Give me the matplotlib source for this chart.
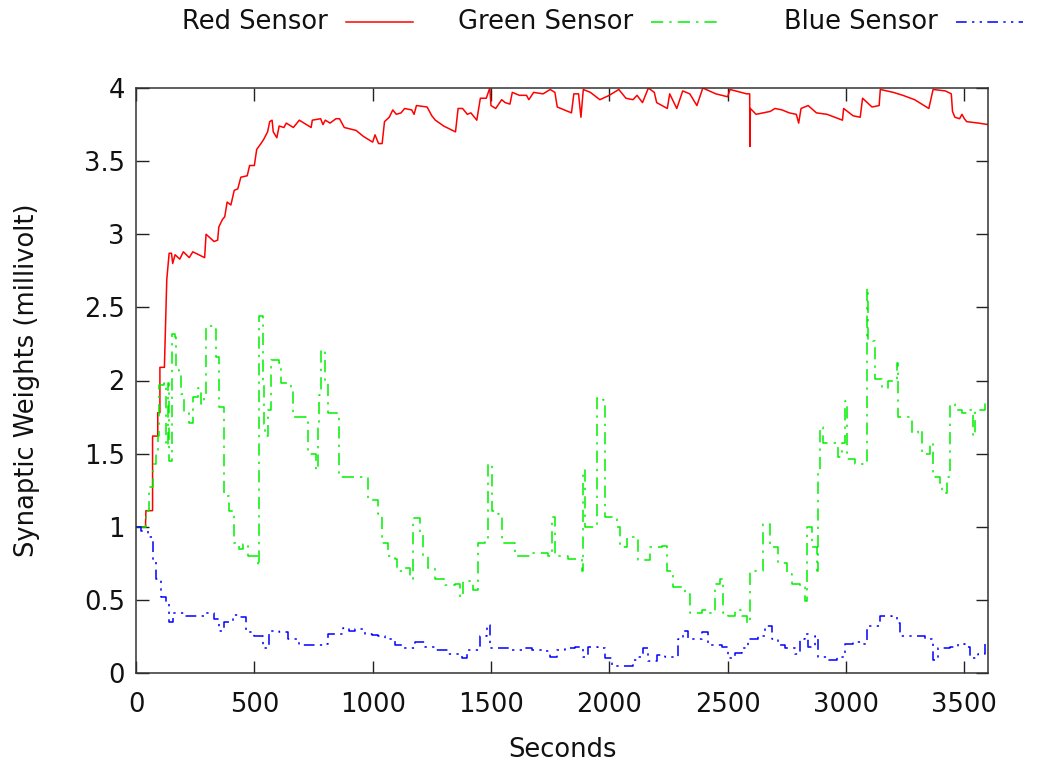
#!/usr/bin/env python
import matplotlib

matplotlib.use("Agg")
import matplotlib.pyplot as plt
from matplotlib.lines import Line2D

# (seconds, millivolt) samples
red_sensor = [
    (0, 1.00), (40, 1.00), (42, 1.11), (70, 1.11), (70, 1.62), (92, 1.62), (92, 1.78),
    (101, 1.78), (101, 2.09), (120, 2.09), (130, 2.69), (140, 2.87), (150, 2.87),
    (155, 2.80), (165, 2.86), (185, 2.83), (200, 2.88), (225, 2.84), (240, 2.88),
    (290, 2.84), (296, 3.00), (330, 2.95), (345, 2.96), (350, 3.05), (365, 3.10),
    (375, 3.12), (385, 3.22), (401, 3.20), (415, 3.30), (430, 3.31), (443, 3.39),
    (470, 3.40), (480, 3.47), (500, 3.47), (510, 3.58), (528, 3.62), (540, 3.65),
    (556, 3.70), (565, 3.77), (575, 3.78), (580, 3.70), (595, 3.66), (605, 3.74),
    (625, 3.73), (635, 3.76), (665, 3.73), (690, 3.78), (740, 3.73), (745, 3.78),
    (780, 3.79), (790, 3.75), (800, 3.78), (820, 3.76), (845, 3.79), (860, 3.79),
    (880, 3.73), (930, 3.71), (960, 3.67), (1000, 3.63), (1010, 3.68), (1025, 3.62),
    (1040, 3.62), (1050, 3.77), (1070, 3.80), (1085, 3.85), (1100, 3.82), (1120, 3.83),
    (1135, 3.86), (1165, 3.85), (1175, 3.82), (1185, 3.88), (1230, 3.87), (1250, 3.81),
    (1265, 3.78), (1300, 3.74), (1350, 3.70), (1361, 3.86), (1380, 3.86), (1400, 3.82),
    (1415, 3.83), (1440, 3.78), (1455, 3.93), (1480, 3.93), (1495, 4.00), (1500, 3.88),
    (1520, 3.86), (1545, 3.92), (1560, 3.90), (1580, 3.89), (1590, 3.97), (1620, 3.95),
    (1650, 3.95), (1660, 3.92), (1680, 3.97), (1720, 3.96), (1750, 3.99), (1770, 3.97),
    (1780, 3.87), (1840, 3.83), (1850, 3.96), (1870, 3.96), (1880, 3.80), (1890, 3.99),
    (1920, 3.97), (1960, 3.92), (2000, 3.95), (2040, 3.99), (2070, 3.93), (2100, 3.92),
    (2117, 3.95), (2140, 3.90), (2165, 4.00), (2190, 3.97), (2200, 3.90), (2245, 3.86),
    (2255, 3.96), (2285, 3.86), (2310, 3.98), (2340, 3.96), (2370, 3.88), (2395, 4.00),
    (2450, 3.96), (2500, 3.94), (2510, 3.99), (2580, 3.96), (2593, 3.96), (2594, 3.60),
    (2596, 3.86), (2620, 3.82), (2650, 3.83), (2680, 3.84), (2700, 3.86), (2730, 3.85),
    (2760, 3.83), (2790, 3.82), (2800, 3.76), (2810, 3.86), (2840, 3.88), (2875, 3.83),
    (2920, 3.82), (2985, 3.78), (2990, 3.86), (3030, 3.81), (3060, 3.80), (3070, 3.93),
    (3090, 3.90), (3110, 3.87), (3140, 3.88), (3145, 3.99), (3200, 3.97), (3240, 3.95),
    (3290, 3.92), (3350, 3.86), (3368, 3.99), (3420, 3.98), (3445, 3.96), (3450, 3.84),
    (3460, 3.80), (3480, 3.79), (3490, 3.82), (3500, 3.79), (3510, 3.77), (3560, 3.76),
    (3600, 3.75),
]

green_sensor = [
    (0, 1.00), (42, 1.11), (56, 1.27), (70, 1.43), (85, 1.50), (95, 1.62), (99, 1.97),
    (120, 1.98), (128, 1.55), (134, 1.98), (141, 1.45), (152, 2.32), (166, 2.30),
    (169, 2.07), (183, 2.05), (190, 1.91), (204, 1.78), (225, 1.71), (239, 1.89),
    (261, 1.95), (275, 1.84), (289, 1.90), (296, 2.37), (331, 2.35), (338, 2.16),
    (352, 1.82), (373, 1.21), (394, 1.11), (415, 0.89), (437, 0.85), (451, 0.88),
    (472, 0.80), (500, 0.80), (514, 0.73), (521, 2.44), (535, 2.00), (540, 1.70),
    (546, 1.62), (556, 1.80), (570, 2.14), (606, 2.12), (613, 1.98), (655, 1.94),
    (662, 1.75), (718, 1.73), (725, 1.50), (761, 1.39), (768, 1.70), (775, 1.90),
    (782, 2.21), (800, 1.98), (810, 1.78), (838, 1.78), (859, 1.34), (968, 1.34),
    (982, 1.18), (1024, 1.09), (1038, 0.89), (1066, 0.80), (1094, 0.78), (1101, 0.70),
    (1129, 0.72), (1158, 0.64), (1172, 1.06), (1200, 0.95), (1214, 0.80), (1235, 0.72),
    (1263, 0.64), (1306, 0.60), (1348, 0.61), (1369, 0.52), (1383, 0.63), (1425, 0.57),
    (1446, 0.89), (1475, 0.90), (1489, 1.43), (1503, 1.11), (1531, 1.09), (1545, 0.89),
    (1573, 0.89), (1601, 0.80), (1672, 0.82), (1742, 0.80), (1756, 1.07), (1770, 0.80),
    (1826, 0.78), (1883, 0.70), (1890, 1.39), (1897, 1.00), (1939, 1.00), (1946, 1.88),
    (1974, 1.87), (1981, 1.07), (2031, 1.00), (2045, 0.86), (2073, 0.93), (2108, 0.91),
    (2122, 0.77), (2171, 0.86), (2221, 0.87), (2242, 0.70), (2270, 0.59), (2319, 0.54),
    (2340, 0.41), (2390, 0.43), (2418, 0.41), (2446, 0.61), (2467, 0.64), (2481, 0.41),
    (2502, 0.39), (2531, 0.43), (2559, 0.39), (2580, 0.34), (2594, 0.70), (2629, 0.70),
    (2650, 1.02), (2678, 0.86), (2714, 0.75), (2750, 0.68), (2771, 0.61), (2806, 0.59),
    (2827, 0.49), (2834, 1.00), (2855, 0.86), (2876, 0.70), (2883, 1.39), (2890, 1.68),
    (2904, 1.57), (2954, 1.57), (2965, 1.48), (2982, 1.57), (2996, 1.86), (3003, 1.46),
    (3038, 1.43), (3080, 1.45), (3088, 2.63), (3095, 2.28), (3116, 2.27), (3123, 2.01),
    (3151, 1.95), (3179, 2.00), (3214, 2.12), (3221, 1.75), (3250, 1.75), (3278, 1.64),
    (3306, 1.66), (3320, 1.50), (3355, 1.57), (3369, 1.34), (3397, 1.30), (3404, 1.23),
    (3425, 1.34), (3440, 1.84), (3461, 1.80), (3489, 1.78), (3517, 1.80), (3538, 1.62),
    (3545, 1.80), (3587, 1.86), (3600, 1.86),
]

blue_sensor = [
    (0, 1.00), (20, 0.97), (49, 0.93), (70, 0.77), (85, 0.64), (106, 0.52), (127, 0.48),
    (141, 0.35), (155, 0.41), (183, 0.41), (211, 0.39), (254, 0.39), (289, 0.41),
    (310, 0.41), (331, 0.37), (352, 0.29), (373, 0.35), (408, 0.40), (437, 0.38),
    (465, 0.28), (500, 0.25), (535, 0.17), (563, 0.29), (606, 0.28), (641, 0.23),
    (690, 0.19), (746, 0.19), (789, 0.20), (810, 0.27), (845, 0.27), (873, 0.31),
    (901, 0.29), (925, 0.30), (968, 0.27), (996, 0.26), (1024, 0.25), (1052, 0.23),
    (1094, 0.19), (1129, 0.17), (1179, 0.21), (1221, 0.18), (1263, 0.16), (1320, 0.13),
    (1376, 0.10), (1397, 0.16), (1432, 0.16), (1453, 0.25), (1482, 0.33), (1496, 0.17),
    (1545, 0.17), (1587, 0.16), (1644, 0.17), (1672, 0.16), (1728, 0.15), (1749, 0.11),
    (1777, 0.16), (1812, 0.17), (1855, 0.18), (1890, 0.11), (1911, 0.18), (1953, 0.17),
    (1981, 0.10), (2010, 0.05), (2066, 0.05), (2101, 0.09), (2122, 0.11), (2143, 0.17),
    (2164, 0.08), (2200, 0.12), (2235, 0.11), (2291, 0.23), (2312, 0.29), (2333, 0.23),
    (2390, 0.28), (2418, 0.19), (2474, 0.18), (2502, 0.10), (2531, 0.14), (2559, 0.17),
    (2587, 0.23), (2629, 0.25), (2657, 0.32), (2686, 0.23), (2714, 0.19), (2742, 0.17),
    (2785, 0.13), (2806, 0.23), (2827, 0.27), (2841, 0.18), (2869, 0.25), (2883, 0.11),
    (2926, 0.09), (2961, 0.11), (2996, 0.20), (3031, 0.21), (3073, 0.20), (3088, 0.32),
    (3116, 0.32), (3144, 0.39), (3193, 0.38), (3214, 0.34), (3228, 0.25), (3278, 0.25),
    (3334, 0.23), (3362, 0.22), (3369, 0.09), (3390, 0.17), (3440, 0.18), (3475, 0.20),
    (3503, 0.18), (3524, 0.10), (3559, 0.13), (3587, 0.20), (3600, 0.20),
]

labels = ["Red Sensor", "Green Sensor", "Blue Sensor"]
x_ticks = [0, 500, 1000, 1500, 2000, 2500, 3000, 3500]
y_ticks = [0, 0.5, 1, 1.5, 2, 2.5, 3, 3.5, 4]
y_ticklabels = ["0", "0.5", "1", "1.5", "2", "2.5", "3", "3.5", "4"]

plt.rcParams["font.family"] = ["DejaVu Sans"]
plt.rcParams["font.size"] = 18.5

W, H = 1037, 766
fig = plt.figure(figsize=(W / 100, H / 100), dpi=100)
ax = fig.add_axes([136 / W, 93 / H, 852 / W, 585 / H])

styles = [
    dict(color="#ff0000", ls="-", drawstyle="default"),
    dict(color="#00f000", dashes=(8, 4, 1.5, 4), drawstyle="steps-post"),
    dict(color="#0000ff", dashes=(7, 3.5, 1.5, 3.5, 1.5, 3.5), drawstyle="steps-post"),
]

for data, style in zip([red_sensor, green_sensor, blue_sensor], styles):
    t, v = zip(*data)
    ax.plot(t, v, lw=1.1, **style)

ax.set_xlim(0, 3600)
ax.set_ylim(0, 4)
ax.set_xticks(x_ticks)
ax.set_yticks(y_ticks)
ax.set_yticklabels(y_ticklabels)
ax.tick_params(direction="in", length=9, width=1, top=True, right=True,
               colors="#222222", labelcolor="#111111")
ax.tick_params(axis="x", pad=14)
ax.tick_params(axis="y", pad=8)
for sp in ax.spines.values():
    sp.set_color("#333333")
    sp.set_linewidth(1.1)

ax.set_xlabel("Seconds", color="#111111")
ax.set_ylabel("Synaptic Weights (millivolt)", color="#111111")
ax.xaxis.set_label_coords(0.5, (673 - 737) / 585)
ax.yaxis.set_label_coords((40 - 136) / 852, 0.5)

# legend row across the top, text then sample line
text_right = [328, 633, 938]
for lab, x_r, style in zip(labels, text_right, styles):
    fig.text(x_r / W, 1 - 22 / H, lab, ha="right", va="center", color="#111111")
    kw = {k: val for k, val in style.items() if k != "drawstyle"}
    fig.add_artist(Line2D([(x_r + 18) / W, (x_r + 85) / W],
                          [1 - 22 / H, 1 - 22 / H], lw=1.1, **kw))

fig.savefig("out.png", dpi=100)
